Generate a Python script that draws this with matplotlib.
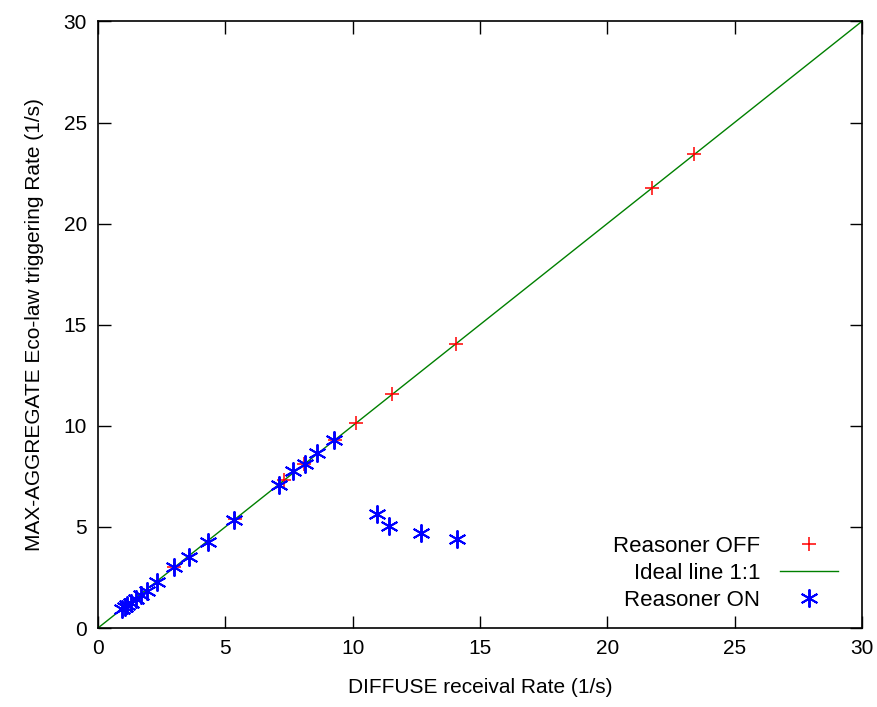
import matplotlib.pyplot as plt
import numpy as np

plt.rcParams["font.family"] = ["Liberation Sans", "DejaVu Sans"]

# Reasoner OFF (red +)
off_x = [3.0, 5.4, 7.3, 8.1, 9.3, 10.13, 11.53, 14.05, 21.75, 23.4]
off_y = [3.0, 5.4, 7.3, 8.1, 9.3, 10.12, 11.55, 14.07, 21.75, 23.44]

# Reasoner ON (blue asterisk)
on_x = [0.95, 1.05, 1.15, 1.3, 1.5, 1.7, 1.92, 2.32, 3.0, 3.59, 4.33, 5.36,
        7.11, 7.67, 8.13, 8.62, 9.28, 10.94, 11.43, 12.68, 14.11]
on_y = [0.95, 1.02, 1.12, 1.25, 1.42, 1.62, 1.82, 2.27, 3.0, 3.52, 4.25, 5.33,
        7.09, 7.78, 8.12, 8.64, 9.31, 5.64, 5.06, 4.68, 4.40]

ideal = [0, 30]

fig = plt.figure(figsize=(8.77, 7.07), dpi=100)
ax = fig.add_axes([0.1117, 0.1117, 0.871, 0.858])

ax.plot(off_x, off_y, linestyle='none', marker='+', color='red', ms=10, mew=1.1,
        label='Reasoner OFF', zorder=3)
ax.plot(ideal, ideal, color='green', lw=1.0, label='Ideal line 1:1', zorder=2)
ax.plot(on_x, on_y, linestyle='none', marker=(6, 2, 0), color='blue', ms=13, mew=1.4,
        label='Reasoner ON', zorder=4)

ax.set_xlim(0, 30)
ax.set_ylim(0, 30)
ax.set_xticks(np.arange(0, 31, 5))
ax.set_yticks(np.arange(0, 31, 5))
ax.tick_params(direction='in', length=9, width=1, top=True, right=True,
               labelsize=15, pad=8)
for s in ax.spines.values():
    s.set_linewidth(1.2)

ax.set_xlabel('DIFFUSE receival Rate (1/s)', fontsize=15, labelpad=14)
ax.set_ylabel('MAX-AGGREGATE Eco-law triggering Rate (1/s)', fontsize=15, labelpad=14)

ax.legend(loc='lower right', frameon=False, markerfirst=False, fontsize=16,
          handlelength=2.6, labelspacing=0.28, handletextpad=0.9,
          bbox_to_anchor=(0.995, -0.005))

plt.savefig('out.png', dpi=100)
